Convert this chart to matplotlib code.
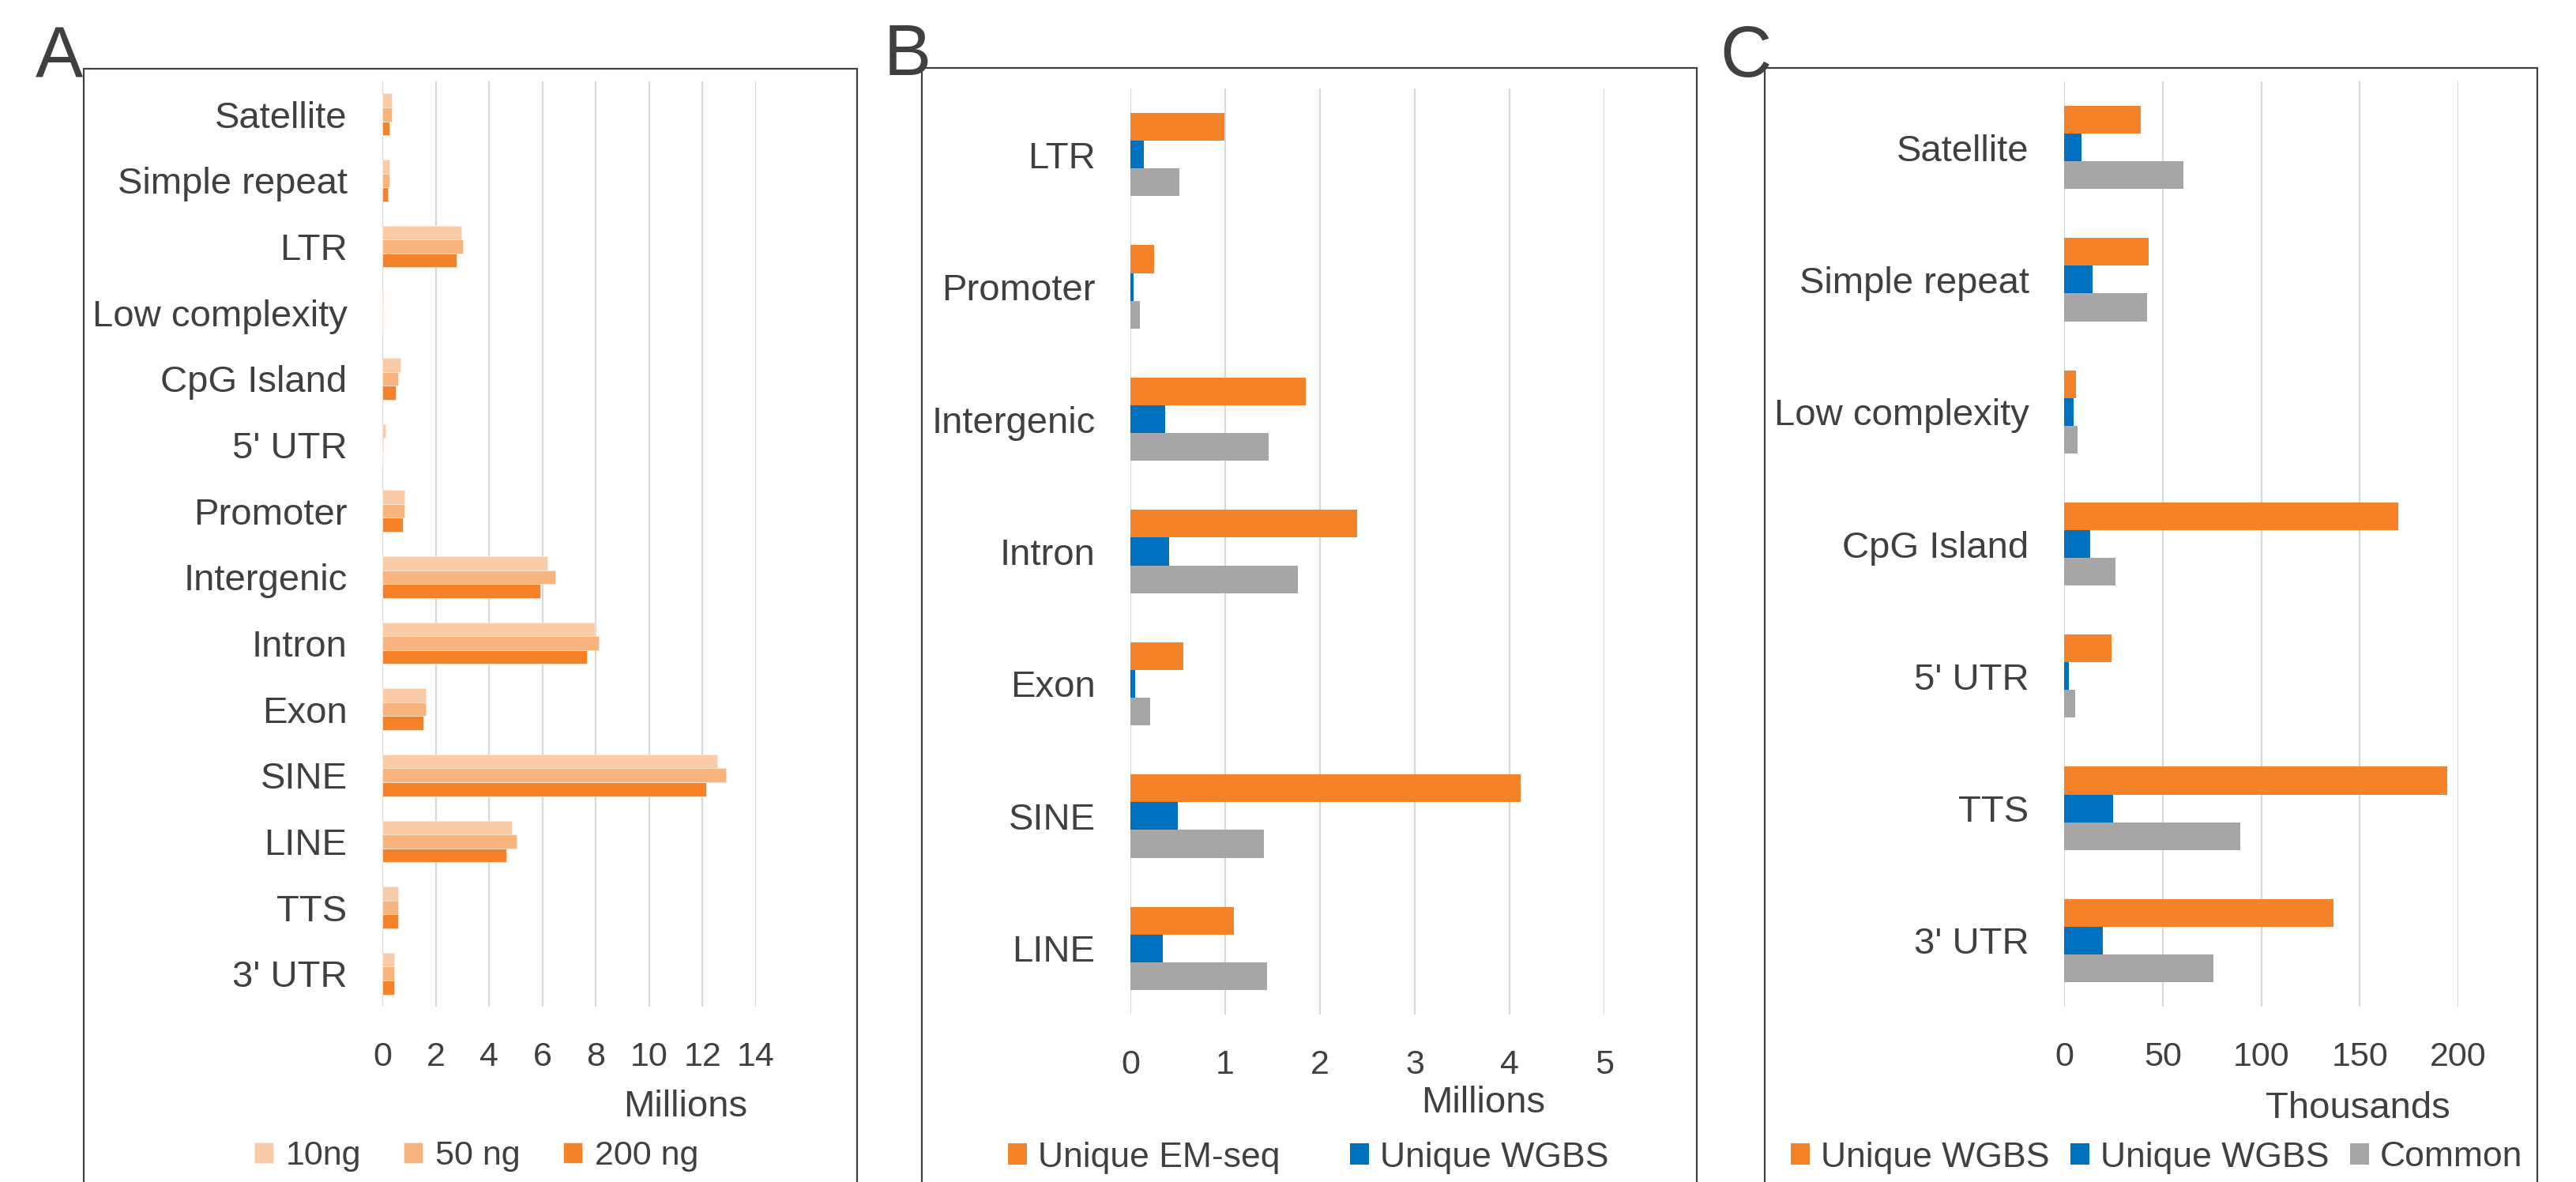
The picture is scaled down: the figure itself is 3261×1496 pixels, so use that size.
import numpy as np
import matplotlib
matplotlib.use("Agg")
import matplotlib.pyplot as plt
from matplotlib.patches import Rectangle

plt.rcParams['font.family'] = ['Liberation Sans', 'DejaVu Sans']

# panel A: annotated CpG by input amount (millions)
a_cats = ["Satellite", "Simple repeat", "LTR", "Low complexity", "CpG Island", "5' UTR",
          "Promoter", "Intergenic", "Intron", "Exon", "SINE", "LINE", "TTS", "3' UTR"]
a_10ng = [0.35, 0.28, 2.95, 0.02, 0.67, 0.12, 0.83, 6.2, 7.97, 1.62, 12.54, 4.86, 0.6, 0.44]
a_50ng = [0.35, 0.28, 3.03, 0.01, 0.59, 0.02, 0.83, 6.47, 8.11, 1.62, 12.88, 5.04, 0.6, 0.44]
a_200ng = [0.28, 0.2, 2.79, 0.01, 0.51, 0.01, 0.77, 5.91, 7.66, 1.55, 12.15, 4.64, 0.6, 0.44]

# panel B (millions)
b_cats = ["LTR", "Promoter", "Intergenic", "Intron", "Exon", "SINE", "LINE"]
b_em = [0.99, 0.25, 1.85, 2.39, 0.56, 4.12, 1.09]
b_wgbs = [0.14, 0.03, 0.37, 0.41, 0.05, 0.5, 0.34]
b_common = [0.52, 0.1, 1.46, 1.77, 0.21, 1.41, 1.44]

# panel C (thousands)
c_cats = ["Satellite", "Simple repeat", "Low complexity", "CpG Island", "5' UTR", "TTS", "3' UTR"]
c_orange = [39, 43, 5.9, 169.6, 24, 194.5, 136.5]
c_blue = [9, 14.4, 4.7, 13.2, 2.6, 25, 19.8]
c_gray = [60.5, 42.1, 6.9, 26.1, 5.8, 89.2, 75.6]

W, H = 3261, 1496
TXT = '#404040'
ORANGE = '#F58228'
BLUE = '#0070C0'
GRAY = '#A6A6A6'

fig = plt.figure(figsize=(W / 100, H / 100), dpi=100)


def px_axes(l, r, t, b):
    return fig.add_axes([l / W, 1 - b / H, (r - l) / W, (b - t) / H])


def bars(ax, cats, series, colors, xmax, step, edge=None):
    y = np.arange(len(cats))
    h = 0.21
    offs = [-h, 0, h]
    handles = []
    for vals, c, o in zip(series, colors, offs):
        handles.append(ax.barh(y + o, vals, height=h, color=c,
                               edgecolor=edge if edge else c, linewidth=0.6 if edge else 0))
    ax.set_yticks(y)
    ax.set_yticklabels(cats, fontsize=34, color=TXT)
    ax.set_ylim(len(cats) - 0.5, -0.5)
    ax.set_xlim(0, xmax)
    ax.set_xticks(np.arange(0, xmax + step / 2, step))
    ax.tick_params(axis='x', labelsize=31, colors=TXT, length=0, pad=32)
    ax.tick_params(axis='y', length=0, pad=32)
    ax.grid(axis='x', color='#D9D9D9', linewidth=1.6)
    ax.set_axisbelow(True)
    for s in ax.spines.values():
        s.set_visible(False)
    return handles


def frame(l, r, t, letter, lx, lb):
    fig.add_artist(Rectangle((l / W, -0.1), (r - l) / W, 1 - t / H + 0.1,
                             transform=fig.transFigure, fill=False,
                             edgecolor=TXT, linewidth=1.6))
    fig.text(lx / W, 1 - lb / H, letter, fontsize=65, color=TXT,
             ha='left', va='baseline')


# A
axA = px_axes(484, 957, 103, 1274)
hA = bars(axA, a_cats, [a_10ng, a_50ng, a_200ng], ['#F9CBA7', '#F8B47C', ORANGE], 14, 2,
          edge='#FDE9DA')
axA.text((868 - 484) / (957 - 484), -(1401 - 1274) / (1274 - 103), "Millions",
         transform=axA.transAxes, ha='center', va='center', fontsize=34, color=TXT)
fig.legend(hA, ["10ng", "50 ng", "200 ng"], loc='center', ncol=3, frameon=False,
           bbox_to_anchor=(603 / W, 1 - 1463 / H), fontsize=31, labelcolor=TXT,
           handlelength=0.56, handleheight=0.56, handletextpad=0.37, columnspacing=1.25)
frame(106, 1085, 87, "A", 45, 97)

# B
axB = px_axes(1431, 2031, 112, 1284)
hB = bars(axB, b_cats, [b_em, b_wgbs, b_common], [ORANGE, BLUE, GRAY], 5, 1)
axB.text((1878 - 1431) / (2031 - 1431), -(1396 - 1284) / (1284 - 112), "Millions",
         transform=axB.transAxes, ha='center', va='center', fontsize=34, color=TXT)
fig.legend(hB[:2], ["Unique EM-seq", "Unique WGBS"], loc='center', ncol=2, frameon=False,
           bbox_to_anchor=(1656 / W, 1 - 1465 / H), fontsize=32, labelcolor=TXT,
           handlelength=0.55, handleheight=0.55, handletextpad=0.3, columnspacing=2.0)
frame(1167, 2148, 86, "B", 1119, 95)

# C
axC = px_axes(2613, 3112, 103, 1274)
hC = bars(axC, c_cats, [c_orange, c_blue, c_gray], [ORANGE, BLUE, GRAY], 200, 50)
axC.text((2985 - 2613) / (3112 - 2613), -(1403 - 1274) / (1274 - 103), "Thousands",
         transform=axC.transAxes, ha='center', va='center', fontsize=34, color=TXT)
fig.legend(hC, ["Unique WGBS", "Unique WGBS", "Common"], loc='center', ncol=3, frameon=False,
           bbox_to_anchor=(2730 / W, 1 - 1465 / H), fontsize=32, labelcolor=TXT,
           handlelength=0.55, handleheight=0.55, handletextpad=0.3, columnspacing=0.6)
frame(2234, 3212, 86, "C", 2177, 97)

fig.savefig("out.png", dpi=100)
